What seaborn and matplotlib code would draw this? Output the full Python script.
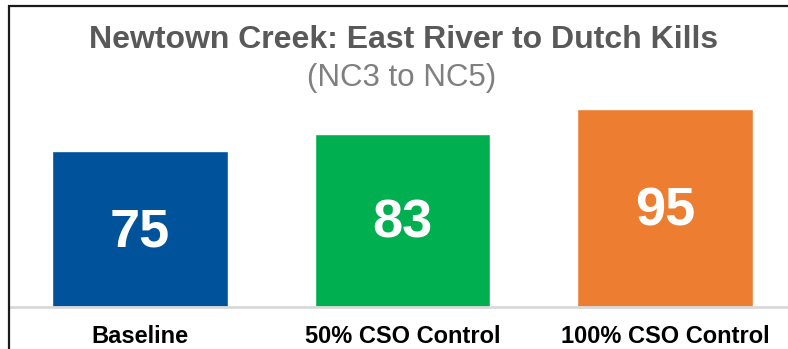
import matplotlib
matplotlib.use("Agg")
import matplotlib.pyplot as plt
import seaborn as sns
import pandas as pd
from matplotlib.patches import Rectangle

# chart data
scenarios = ["Baseline", "50% CSO Control", "100% CSO Control"]
scores = [75, 83, 95]
bar_colors = ["#00529B", "#00B050", "#ED7D31"]

sns.set_theme(style="white")
plt.rcParams["font.family"] = ["Liberation Sans", "DejaVu Sans"]

df = pd.DataFrame({"scenario": scenarios, "score": scores})

fig = plt.figure(figsize=(7.88, 3.49), dpi=100)
W, H = 788, 349
# axes: left edge at x=9px, baseline at y=307px, 2.08 px per unit
ax = fig.add_axes([9 / W, (H - 307) / H, (W - 9) / W, 208 / H])

sns.barplot(data=df, x="scenario", y="score", hue="scenario",
            palette=bar_colors, width=0.67, saturation=1, legend=False, ax=ax)

ax.set_ylim(0, 100)
ax.set_xlim(-0.5, 2.5 - 8 / 262.5)
ax.set_xlabel("")
ax.set_ylabel("")
ax.set_yticks([])
for side in ["top", "left", "right"]:
    ax.spines[side].set_visible(False)
ax.spines["bottom"].set_color("#D9D9D9")
ax.spines["bottom"].set_linewidth(2)
ax.tick_params(axis="x", length=0, pad=13)
for lbl in ax.get_xticklabels():
    lbl.set_fontweight("bold")
    lbl.set_fontsize(17)
    lbl.set_color("black")

# value labels a little below the middle of each bar
for i, v in enumerate(scores):
    ax.text(i, v / 2 - 1.5, str(v), ha="center", va="center", color="white",
            fontsize=39, fontweight="bold")

fig.text(404 / W, 1 - 40 / H, "Newtown Creek: East River to Dutch Kills",
         ha="center", va="center", fontsize=23, fontweight="bold", color="#595959")
fig.text(402 / W, 1 - 78 / H, "(NC3 to NC5)", ha="center", va="center",
         fontsize=22.5, color="#7F7F7F")

# outer frame (cropped on right and bottom)
fig.patches.append(Rectangle((8.5 / W, -0.1), 1.1, 1.1 - 5.5 / H,
                             transform=fig.transFigure, fill=False,
                             edgecolor="#1A1A1A", linewidth=1.6))

fig.savefig("out.png", dpi=100)
